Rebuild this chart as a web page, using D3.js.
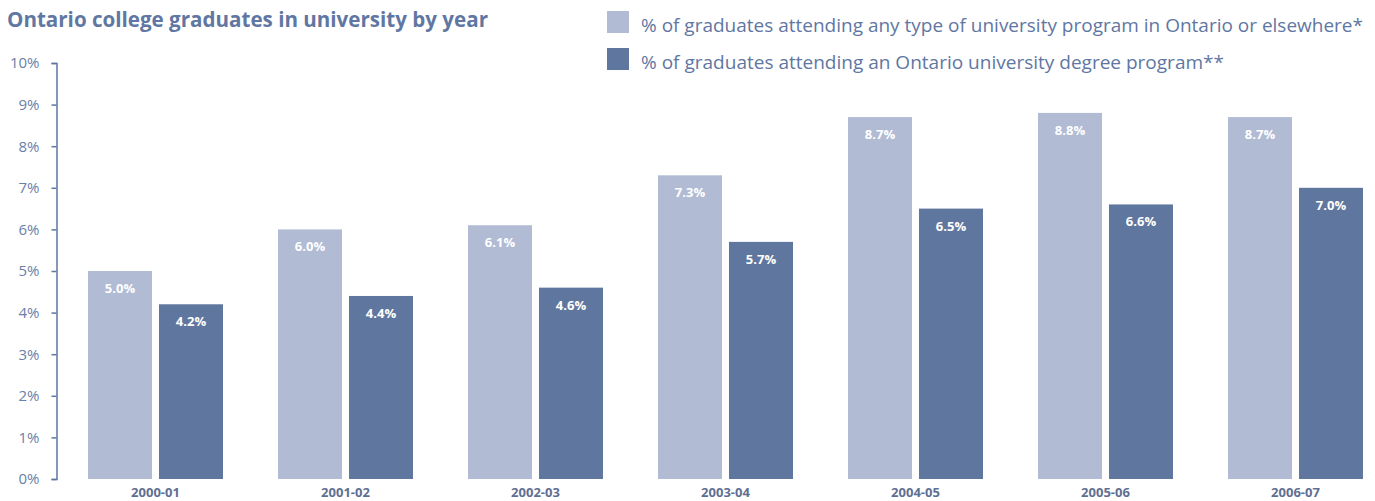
<!DOCTYPE html>
<html>
<head>
<meta charset="utf-8">
<script src="https://cdn.jsdelivr.net/npm/d3@7"></script>
<style>
  html, body { margin: 0; padding: 0; background: #fff; }
  svg { display: block; font-family: "Open Sans", "Noto Sans", sans-serif; }
</style>
</head>
<body>
<svg id="chart" width="1375" height="501"></svg>
<script>
// Academic years shown on the x axis
const years = ["2000-01", "2001-02", "2002-03", "2003-04", "2004-05", "2005-06", "2006-07"];
// % of graduates attending any type of university program (Ontario or elsewhere)
const anyProgram = [5.0, 6.0, 6.1, 7.3, 8.7, 8.8, 8.7];
// % of graduates attending an Ontario university degree program
const ontarioDegree = [4.2, 4.4, 4.6, 5.7, 6.5, 6.6, 7.0];
const seriesNames = [
  "% of graduates attending any type of university program in Ontario or elsewhere*",
  "% of graduates attending an Ontario university degree program**"
];
const yTicks = [0, 1, 2, 3, 4, 5, 6, 7, 8, 9, 10];

const colors = ["#b1bbd4", "#5f779f"];
const textColor = "#5f77a2";

const svg = d3.select("#chart");

const x0 = d3.scaleBand().domain(years).range([88, 1363])
  .paddingInner(55 / 190).paddingOuter(0);
const x1 = d3.scaleBand().domain([0, 1]).range([0, x0.bandwidth()])
  .paddingInner(7 / 71).paddingOuter(0);
const y = d3.scaleLinear().domain([0, 10]).range([479, 63]);

// Title
svg.append("text")
  .attr("x", 7).attr("y", 27)
  .attr("fill", textColor)
  .attr("font-size", 20.5).attr("font-weight", 700)
  .attr("textLength", 481).attr("lengthAdjust", "spacingAndGlyphs")
  .text("Ontario college graduates in university by year");

// Legend
const legend = svg.append("g");
seriesNames.forEach((name, i) => {
  const ly = 11 + i * 37;
  legend.append("rect")
    .attr("x", 607).attr("y", ly).attr("width", 22).attr("height", 22)
    .attr("fill", colors[i]);
  legend.append("text")
    .attr("x", 641).attr("y", ly + 21)
    .attr("fill", textColor)
    .attr("font-size", 18)
    .attr("textLength", i === 0 ? 722 : 583)
    .attr("lengthAdjust", "spacingAndGlyphs")
    .text(name);
});

// Y axis
const yAxis = d3.axisLeft(y)
  .tickValues(yTicks)
  .tickSize(5)
  .tickPadding(12)
  .tickFormat(d => d + "%");
const ag = svg.append("g")
  .attr("transform", "translate(56.5,0)")
  .call(yAxis);
ag.select(".domain").attr("stroke", textColor).attr("stroke-width", 1.5);
ag.selectAll(".tick line").attr("stroke", textColor).attr("stroke-width", 1.5);
ag.selectAll(".tick text")
  .attr("fill", "#6a80a9")
  .attr("font-size", 15)
  .attr("font-family", "'Open Sans', 'Noto Sans', sans-serif");

// Bars
const rows = years.map((yr, i) => ({ year: yr, values: [anyProgram[i], ontarioDegree[i]] }));
const groups = svg.append("g").selectAll("g")
  .data(rows)
  .join("g")
  .attr("transform", d => `translate(${x0(d.year)},0)`);

groups.selectAll("rect")
  .data(d => d.values.map((v, k) => ({ v, k })))
  .join("rect")
  .attr("x", d => x1(d.k))
  .attr("y", d => y(d.v))
  .attr("width", x1.bandwidth())
  .attr("height", d => y(0) - y(d.v))
  .attr("fill", d => colors[d.k]);

groups.selectAll("text.val")
  .data(d => d.values.map((v, k) => ({ v, k })))
  .join("text")
  .attr("class", "val")
  .attr("x", d => x1(d.k) + x1.bandwidth() / 2)
  .attr("y", d => y(d.v) + 22)
  .attr("text-anchor", "middle")
  .attr("fill", "#fff")
  .attr("font-size", 13).attr("font-weight", 700)
  .text(d => d.v.toFixed(1) + "%");

// Category labels
svg.append("g").selectAll("text")
  .data(years)
  .join("text")
  .attr("x", d => x0(d) + x0.bandwidth() / 2)
  .attr("y", 496.5)
  .attr("text-anchor", "middle")
  .attr("fill", "#5f6f92")
  .attr("font-size", 13).attr("font-weight", 700)
  .text(d => d);
</script>
</body>
</html>
